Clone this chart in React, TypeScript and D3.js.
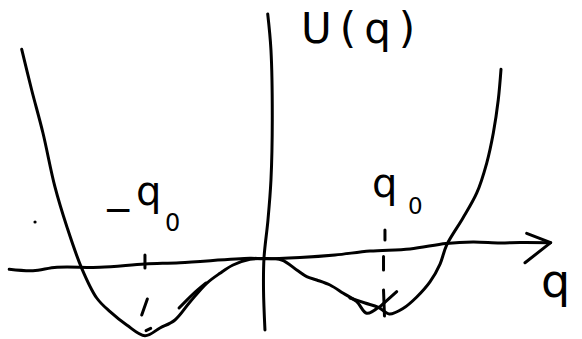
import React from "react";
import * as d3 from "d3";

const W = 582;
const H = 339;

type Pt = [number, number];

// Sketch of the double-well potential U(q), in units of q0 (x) and well depth (y).
// Main stroke: left wall, left well, central hump, right well down to its kink.
const mainStroke: Pt[] = [
  [-2.019, 2.772], [-1.936, 2.237], [-1.842, 1.671], [-1.742, 0.961],
  [-1.642, 0.434], [-1.519, -0.109], [-1.394, -0.5], [-1.283, -0.68],
  [-1.144, -0.855], [-0.992, -0.996], [-0.867, -0.895], [-0.742, -0.789],
  [-0.617, -0.553], [-0.478, -0.307], [-0.367, -0.175], [-0.258, -0.066],
  [-0.117, 0.009], [-0.008, 0.02], [0.148, 0.0], [0.273, -0.132],
  [0.356, -0.22], [0.439, -0.263], [0.55, -0.329], [0.661, -0.438],
  [0.773, -0.549], [0.856, -0.701], [0.953, -0.622],
];

// Second stroke: right well bottom and right wall.
const rightStroke: Pt[] = [
  [0.717, -0.5], [0.842, -0.566], [0.953, -0.622], [1.044, -0.711],
  [1.161, -0.636], [1.273, -0.487], [1.383, -0.289], [1.467, -0.053],
  [1.522, 0.197], [1.658, 0.553], [1.773, 0.882], [1.856, 1.276],
  [1.911, 1.671], [1.952, 2.105], [1.975, 2.509],
];

// Short retraced piece on the inner side of the left well.
const leftRetrace: Pt[] = [[-0.708, -0.632], [-0.6, -0.461], [-0.483, -0.303]];

// Horizontal q axis (hand drawn, slightly rising) and its arrow head.
const qAxis: Pt[] = [
  [-2.123, -0.122], [-1.925, -0.141], [-1.725, -0.096], [-1.367, -0.096],
  [-0.992, -0.053], [-0.7, -0.036], [-0.117, 0.022], [0.0, 0.016],
  [0.3, 0.033], [0.592, 0.066], [0.883, 0.118], [1.217, 0.145],
  [1.517, 0.217], [1.742, 0.237], [1.967, 0.224], [2.133, 0.23],
  [2.389, 0.228],
];
const arrowHead: Pt[] = [[2.189, 0.351], [2.389, 0.228], [2.175, -0.036]];

// Vertical U axis.
const uAxis: Pt[] = [
  [0.031, 3.237], [0.058, 2.763], [0.069, 1.842], [0.058, 1.053],
  [0.033, 0.526], [0.0, 0.026], [-0.004, -0.395], [0.008, -0.921],
];

// Tick at -q0 and the dashed guides dropping to the well minima.
const guideMarks: Pt[][] = [
  [[-0.992, 0.066], [-0.992, -0.105]],
  [[-1.019, -0.724], [-0.972, -0.513]],
  [[-0.983, -0.93], [-0.944, -0.899]],
  [[1.008, 0.395], [1.008, 0.263]],
  [[0.996, 0.046], [0.996, -0.132]],
  [[0.996, -0.395], [1.004, -0.737]],
  [[0.967, -0.614], [1.106, -0.417]],
];

// Stray pen dot left of the left wall.
const penDots: Pt[] = [[-1.908, 0.5]];

const x = d3.scaleLinear().domain([-1, 1]).range([144, 384]);
const y = d3.scaleLinear().domain([0, -1]).range([260, 336]);

const smooth = d3
  .line<Pt>()
  .x((d) => x(d[0]))
  .y((d) => y(d[1]))
  .curve(d3.curveCatmullRom.alpha(0.5));

const straight = d3
  .line<Pt>()
  .x((d) => x(d[0]))
  .y((d) => y(d[1]));

const ink = "#000";
const font = "'DejaVu Sans', sans-serif";

export default function App() {
  const strokeProps = {
    fill: "none",
    stroke: ink,
    strokeWidth: 3,
    strokeLinecap: "round" as const,
    strokeLinejoin: "round" as const,
  };
  return (
    <svg
      width={W}
      height={H}
      viewBox={`0 0 ${W} ${H}`}
      style={{ position: "absolute", left: 0, top: 0, background: "#fff" }}
    >
      <rect width={W} height={H} fill="#fff" />
      <path d={smooth(uAxis) ?? ""} {...strokeProps} />
      <path d={smooth(qAxis) ?? ""} {...strokeProps} />
      <path d={straight(arrowHead) ?? ""} {...strokeProps} />
      <path d={smooth(mainStroke) ?? ""} {...strokeProps} />
      <path d={smooth(rightStroke) ?? ""} {...strokeProps} />
      <path d={smooth(leftRetrace) ?? ""} {...strokeProps} />
      {guideMarks.map((seg, i) => (
        <path key={i} d={straight(seg) ?? ""} {...strokeProps} />
      ))}
      {penDots.map((d, i) => (
        <circle key={i} cx={x(d[0])} cy={y(d[1])} r={1.6} fill={ink} />
      ))}

      <text x={301} y={43} fontFamily={font} fontSize={42} letterSpacing={8} fill={ink}>
        U(q)
      </text>

      <text fontFamily={font} fill={ink}>
        <tspan x={103} y={222} fontSize={36}>−</tspan>
        <tspan x={136} y={205} fontSize={40}>q</tspan>
        <tspan x={165} y={231} fontSize={24}>0</tspan>
      </text>

      <text fontFamily={font} fill={ink}>
        <tspan x={372} y={197} fontSize={40}>q</tspan>
        <tspan x={408} y={214} fontSize={23}>0</tspan>
      </text>

      <text x={541} y={297} fontFamily={font} fontSize={46} fill={ink}>
        q
      </text>
    </svg>
  );
}
